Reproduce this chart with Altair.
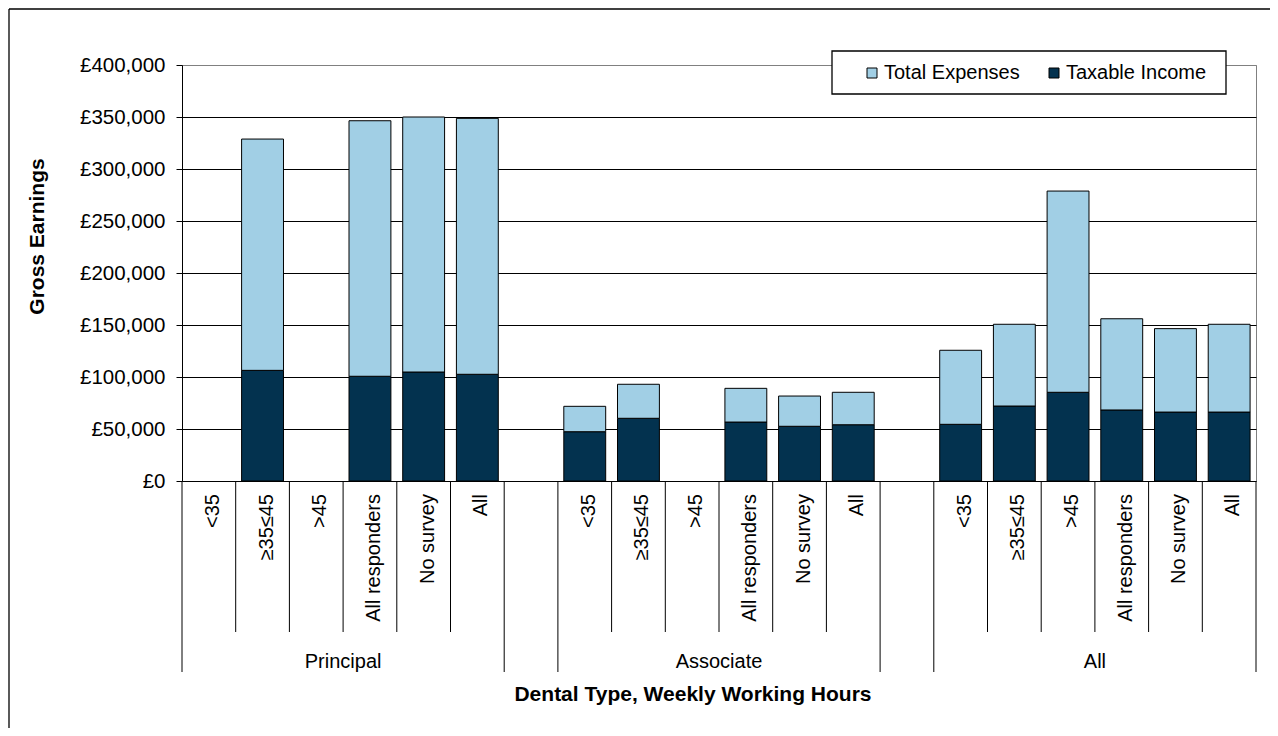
import altair as alt
import pandas as pd

FONT = "Liberation Sans"

groups = ["Principal", "Associate", "All"]
hours = ["<35", "≥35≤45", ">45", "All responders", "No survey", "All"]
series = ["Total Expenses", "Taxable Income"]
colors = ["#A1CFE5", "#03324F"]

principal_income = [None, 106400, None, 100700, 104800, 102600]
principal_expenses = [None, 222400, None, 245700, 245200, 246100]
associate_income = [47400, 60300, None, 56700, 52600, 54100]
associate_expenses = [24400, 32700, None, 32400, 29100, 31200]
all_income = [54500, 72100, 85300, 68300, 66300, 66300]
all_expenses = [71200, 78600, 193500, 87700, 80200, 84400]

y_ticks = [0, 50000, 100000, 150000, 200000, 250000, 300000, 350000, 400000]
y_title = "Gross Earnings"
x_title = "Dental Type, Weekly Working Hours"

income = {"Principal": principal_income, "Associate": associate_income, "All": all_income}
expenses = {"Principal": principal_expenses, "Associate": associate_expenses, "All": all_expenses}

# slot domain (with an empty slot between groups)
slots = []
first_slots = []
gap_slots = []
for gi, g in enumerate(groups):
    if gi > 0:
        gid = f"gap{gi}"
        slots.append(gid)
        gap_slots.append(gid)
    for hi, h in enumerate(hours):
        sid = f"{g}|{h}"
        slots.append(sid)
        if hi == 0:
            first_slots.append(sid)

bar_rows = []
label_rows = []
for g in groups:
    for hi, h in enumerate(hours):
        sid = f"{g}|{h}"
        label_rows.append({"slot": sid, "label": h})
        if income[g][hi] is not None:
            bar_rows.append({"slot": sid, "series": "Taxable Income", "value": income[g][hi], "ord": 0})
            bar_rows.append({"slot": sid, "series": "Total Expenses", "value": expenses[g][hi], "ord": 1})
bars_df = pd.DataFrame(bar_rows)
labels_df = pd.DataFrame(label_rows)
group_df = pd.DataFrame({"slot": [f"{g}|{hours[2]}" for g in groups], "label": groups})

div_rows = []
for s in slots:
    kind = "full" if (s in gap_slots or s in first_slots) else "sub"
    div_rows.append({"slot": s, "kind": kind})
div_df = pd.DataFrame(div_rows)
last_df = pd.DataFrame({"slot": [slots[-1]]})

xscale = alt.Scale(domain=slots, paddingInner=0, paddingOuter=0)
PW, PH = 1074, 416

one = pd.DataFrame({"a": [0]})
border_left = alt.Chart(one).mark_rule(color="black", strokeWidth=1.3).encode(
    x=alt.value(-173), y=alt.value(-56), y2=alt.value(700)
)
border_top = alt.Chart(one).mark_rule(color="black", strokeWidth=1.3).encode(
    x=alt.value(-173), x2=alt.value(1200), y=alt.value(-56)
)

bars = alt.Chart(bars_df).mark_bar(
    width=alt.RelativeBandSize(0.78), stroke="black", strokeWidth=1
).encode(
    x=alt.X("slot:N", scale=xscale, axis=None, sort=slots),
    y=alt.Y(
        "value:Q",
        stack="zero",
        scale=alt.Scale(domain=[0, 400000], nice=False),
        axis=alt.Axis(
            values=y_ticks,
            labelExpr="'£' + format(datum.value, ',')",
            labelFont=FONT,
            labelFontSize=20.5,
            labelColor="black",
            labelPadding=11,
            tickSize=6,
            tickColor="black",
            tickWidth=1,
            domainColor="black",
            domainWidth=1,
            grid=True,
            gridColor={"condition": {"test": "datum.value >= 400000", "value": "#808080"}, "value": "black"},
            gridWidth=1,
            title=y_title,
            titleFont=FONT,
            titleFontSize=21,
            titleFontWeight="bold",
            titleColor="black",
            titleAngle=270,
            titleX=-139,
            titleY=171,
            titleAlign="center",
            titleBaseline="alphabetic",
        ),
    ),
    color=alt.Color(
        "series:N",
        scale=alt.Scale(domain=series, range=colors),
        legend=alt.Legend(
            title=None,
            orient="none",
            legendX=680,
            legendY=-2,
            direction="horizontal",
            symbolType="square",
            symbolSize=100,
            symbolStrokeColor="black",
            symbolStrokeWidth=1,
            labelFont=FONT,
            labelFontSize=20,
            labelColor="black",
            labelOffset=2,
            columnPadding=24,
            padding=0,
        ),
    ),
    order=alt.Order("ord:Q"),
)

sub_div = alt.Chart(div_df).transform_filter("datum.kind == 'sub'").mark_rule(
    color="black", strokeWidth=1
).encode(
    x=alt.X("slot:N", scale=xscale, axis=None, bandPosition=0),
    y=alt.value(PH),
    y2=alt.value(567),
)
full_div = alt.Chart(div_df).transform_filter("datum.kind == 'full'").mark_rule(
    color="black", strokeWidth=1
).encode(
    x=alt.X("slot:N", scale=xscale, axis=None, bandPosition=0),
    y=alt.value(PH),
    y2=alt.value(607),
)
end_div = alt.Chart(last_df).mark_rule(color="black", strokeWidth=1).encode(
    x=alt.X("slot:N", scale=xscale, axis=None, bandPosition=1),
    y=alt.value(PH),
    y2=alt.value(607),
)

sub_labels = alt.Chart(labels_df).mark_text(
    angle=270, align="right", baseline="middle", dy=4, font=FONT, fontSize=20, color="black"
).encode(
    x=alt.X("slot:N", scale=xscale, axis=None),
    y=alt.value(429),
    text="label:N",
)

group_labels = alt.Chart(group_df).mark_text(
    align="center", baseline="alphabetic", font=FONT, fontSize=20, color="black"
).encode(
    x=alt.X("slot:N", scale=xscale, axis=None, bandPosition=1),
    y=alt.value(603),
    text="label:N",
)

xtitle = alt.Chart(pd.DataFrame({"t": [x_title]})).mark_text(
    align="center", baseline="alphabetic", font=FONT, fontSize=21, fontWeight="bold", color="black"
).encode(x=alt.value(511), y=alt.value(636), text="t:N")

legend_box = alt.Chart(one).mark_rect(
    fill="white", stroke="black", strokeWidth=1.3
).encode(x=alt.value(650), x2=alt.value(1044), y=alt.value(-14), y2=alt.value(29))

chart = alt.layer(
    border_left, border_top, bars, sub_div, full_div, end_div, sub_labels, group_labels, xtitle, legend_box
).properties(
    width=PW,
    height=PH,
    autosize=alt.AutoSizeParams(type="none"),
    padding={"left": 174, "top": 57, "right": 14, "bottom": 247},
    background="white",
).configure_view(stroke="#808080", strokeWidth=1)

chart.save("out.html", embed_options={"renderer": "svg", "actions": False})
